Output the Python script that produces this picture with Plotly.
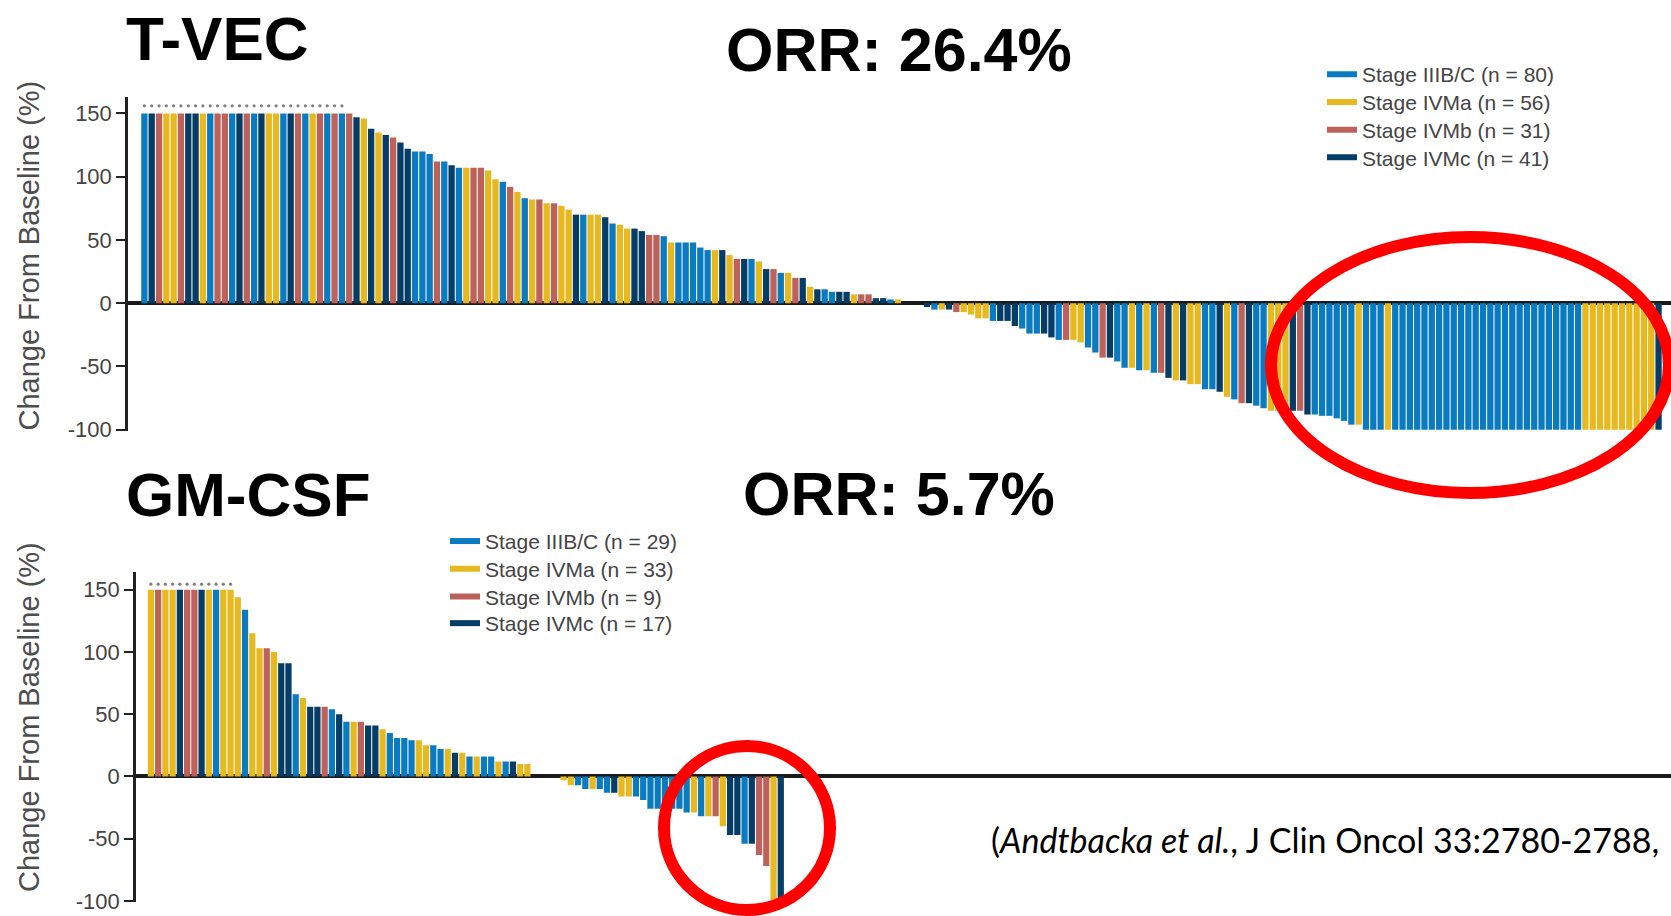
import plotly.graph_objects as go

W, H = 1671, 916

# ---------------- data ----------------
stage_codes = ["B", "Y", "R", "N"]
stage_names = ["Stage IIIB/C", "Stage IVMa", "Stage IVMb", "Stage IVMc"]
stage_colors = ["#0A7BC1", "#E6B921", "#BC625B", "#063D66"]

tvec_n = [80, 56, 31, 41]
gm_n = [29, 33, 9, 17]

tvec_stage = list("".join("""
BNRYYRNNYB RRBNRBNYYB NRBYRBRBRN YNYNRNNBBB RBNBYRRYYB
RYBYRYRYYN BYYNBYYNNR RBYBBBBBYN YRNBYNRBYR NYNBBNNYRR
NNBYRRNNBY NRYYYYBNNN BBBNNBRYYB BRNBBYBYBR NYNYYBBNYB
RNBBYYYNRN BBBBBBYBBB YBBBBBBBBB BBBBBBBBBB BBBBBBBYYY
YYYYYYYN
""".split()))

tvec_change = [
    150, 150, 150, 150, 150, 150, 150, 150, 150, 150,
    150, 150, 150, 150, 150, 150, 150, 150, 150, 150,
    150, 150, 150, 150, 150, 150, 150, 150, 150, 147,
    146, 138, 135, 133, 131, 127, 122, 120, 120, 118,
    112, 112, 109, 107, 107, 107, 107, 105, 98, 96,
    92, 88, 83, 82, 82, 79, 79, 77, 74, 70,
    70, 70, 70, 68, 63, 62, 59, 59, 57, 54,
    54, 53, 48, 48, 48, 48, 44, 42, 42, 42,
    38, 35, 35, 35, 33, 27, 27, 24, 24, 20,
    20, 13, 11, 11, 9, 9, 9, 7, 7, 7,
    4, 4, 3, 3, 0, 0, 0, -3, -5, -5,
    -5, -7, -7, -9, -12, -12, -14, -14, -14, -18,
    -20, -24, -24, -24, -27, -29, -29, -29, -31, -35,
    -39, -43, -43, -46, -51, -51, -53, -53, -55, -55,
    -59, -61, -61, -64, -64, -68, -68, -70, -74, -76,
    -79, -79, -81, -83, -85, -85, -85, -85, -85, -88,
    -88, -89, -89, -91, -93, -96, -96, -100, -100, -100,
    -100, -100, -100, -100, -100, -100, -100, -100, -100, -100,
    -100, -100, -100, -100, -100, -100, -100, -100, -100, -100,
    -100, -100, -100, -100, -100, -100, -100, -100, -100, -100,
    -100, -100, -100, -100, -100, -100, -100, -100,
]

gm_stage = list("".join("""
YRYYNRRNYB YYYBYYRYNN BYNNRBNBYR NNYBBBBYYB BYNYBYBBYB
NYYYYNYYYB BYBBNYYBBB BBBBBYBYRY NNBNRRYN
""".split()))

gm_change = [
    150, 150, 150, 150, 150, 150, 150, 150, 150, 150,
    150, 150, 144, 134, 115, 103, 103, 100, 91, 91,
    66, 63, 56, 56, 56, 54, 50, 44, 44, 44,
    41, 41, 38, 35, 31, 31, 29, 29, 25, 25,
    22, 22, 19, 19, 16, 16, 16, 16, 12, 12,
    12, 10, 10, 0, 0, 0, 0, -3, -7, -7,
    -10, -10, -10, -13, -13, -16, -16, -16, -19, -26,
    -26, -26, -26, -26, -29, -29, -32, -32, -32, -40,
    -47, -47, -54, -54, -63, -72, -100, -100,
]

tvec_capped = 28   # number of leading bars truncated at 150% (dotted marker)
gm_capped = 12

tick_vals = [150, 100, 50, 0, -50, -100]
tick_text = ["150", "100", "50", "0", "-50", "-100"]


def px(x):
    return x / W


def py(y):
    return 1 - y / H


fig = go.Figure()

legend_pos = {
    "top": (1322, [74.6, 102.3, 130.0, 157.7]),
    "bottom": (445, [541.4, 569.1, 596.8, 623.5]),
}

panels = [
    ("top", tvec_stage, tvec_change, tvec_n, tvec_capped, 156, "x", "y", 1),
    ("bottom", gm_stage, gm_change, gm_n, gm_capped, 154.5, "x2", "y2", 5),
]

legend_layouts = {}
legend_common = dict(
    xanchor="left", yanchor="middle", bgcolor="rgba(0,0,0,0)",
    font=dict(size=21, color="#444", family="Liberation Sans"),
    itemwidth=30, tracegroupgap=0,
)

for key, stages, changes, ns, capped, doty, xa, ya, lg0 in panels:
    for code, color in zip(stage_codes, stage_colors):
        xs = [i + 1 for i, s in enumerate(stages) if s == code]
        ys = [changes[i] for i, s in enumerate(stages) if s == code]
        fig.add_trace(go.Bar(
            x=xs, y=ys, width=0.86,
            marker=dict(color=color, line=dict(width=0)),
            showlegend=False, xaxis=xa, yaxis=ya, hoverinfo="x+y",
        ))
    fig.add_trace(go.Scatter(
        x=list(range(1, capped + 1)), y=[doty] * capped, mode="markers",
        marker=dict(size=3.2, color="#808080"), showlegend=False,
        xaxis=xa, yaxis=ya, hoverinfo="skip",
    ))
    lx, lys = legend_pos[key]
    for k, (name, n, color) in enumerate(zip(stage_names, ns, stage_colors)):
        lgname = "legend" if lg0 + k == 1 else f"legend{lg0 + k}"
        fig.add_trace(go.Scatter(
            x=[None], y=[None], mode="lines",
            line=dict(color=color, width=6),
            name=f"{name} (n = {n})", legend=lgname,
            xaxis=xa, yaxis=ya, hoverinfo="skip",
        ))
        legend_layouts[lgname] = dict(x=px(lx), y=py(lys[k]), **legend_common)

yaxis_common = dict(
    tickvals=tick_vals, ticktext=tick_text, ticks="outside", ticklen=9,
    tickwidth=2, tickcolor="#222", showline=True, linecolor="#222",
    linewidth=2.5, zeroline=True, zerolinecolor="#1a1a1a", zerolinewidth=3.5,
    showgrid=False, tickfont=dict(size=22, color="#444", family="Liberation Sans"),
    fixedrange=True, automargin=False,
)
xaxis_common = dict(showticklabels=False, showline=False, showgrid=False,
                    zeroline=False, ticks="", fixedrange=True, automargin=False)

title_font = dict(size=62, color="black", family="Liberation Sans")
orr_font = dict(size=61, color="black", family="Liberation Sans")
ytitle_font = dict(size=29, color="#4d4d4d", family="Liberation Sans")

annotations = [
    dict(text="<b>T-VEC</b>", x=px(124), y=py(38), xanchor="left", yanchor="middle", font=title_font),
    dict(text="<b>ORR: 26.4%</b>", x=px(899), y=py(50), xanchor="center", yanchor="middle", font=orr_font),
    dict(text="<b>GM-CSF</b>", x=px(124), y=py(495), xanchor="left", yanchor="middle", font=title_font),
    dict(text="<b>ORR: 5.7%</b>", x=px(899), y=py(494), xanchor="center", yanchor="middle", font=orr_font),
    dict(text="Change From Baseline (%)", textangle=-90, x=px(28.5), y=py(256),
         xanchor="center", yanchor="middle", font=ytitle_font),
    dict(text="Change From Baseline (%)", textangle=-90, x=px(29), y=py(717),
         xanchor="center", yanchor="middle", font=ytitle_font),
    dict(text="(<i>Andtbacka et al.</i>, J Clin Oncol 33:2780-2788,", x=px(989), y=py(839),
         xanchor="left", yanchor="middle", font=dict(size=34, color="black", family="Lato")),
]
for a in annotations:
    a.update(xref="paper", yref="paper", showarrow=False)

shapes = [
    dict(type="circle", xref="paper", yref="paper",
         x0=px(1470 - 199), x1=px(1470 + 199), y0=py(365 + 128), y1=py(365 - 128),
         line=dict(color="#FF0000", width=12)),
    dict(type="circle", xref="paper", yref="paper",
         x0=px(747 - 83), x1=px(747 + 83), y0=py(828 + 82), y1=py(828 - 82),
         line=dict(color="#FF0000", width=12)),
]

fig.update_layout(
    width=W, height=H, margin=dict(l=0, r=0, t=0, b=0, pad=0, autoexpand=False),
    paper_bgcolor="white", plot_bgcolor="white",
    font=dict(family="Liberation Sans"),
    barmode="overlay", bargap=0.14,
    xaxis=dict(domain=[px(128), 1], range=[-1.24, 209.7], anchor="y", **xaxis_common),
    yaxis=dict(domain=[py(431), py(97)], range=[-101, 163], anchor="x", **yaxis_common),
    xaxis2=dict(domain=[px(136), 1], range=[-1.06, 210.96], anchor="y2", **xaxis_common),
    yaxis2=dict(domain=[py(901.7), py(571.7)], range=[-100.6, 164.5], anchor="x2", **yaxis_common),
    annotations=annotations,
    shapes=shapes,
    showlegend=True,
    **legend_layouts,
)

fig.write_html("out.html", config={"displayModeBar": False},
               post_script="document.body.style.margin='0px';")
